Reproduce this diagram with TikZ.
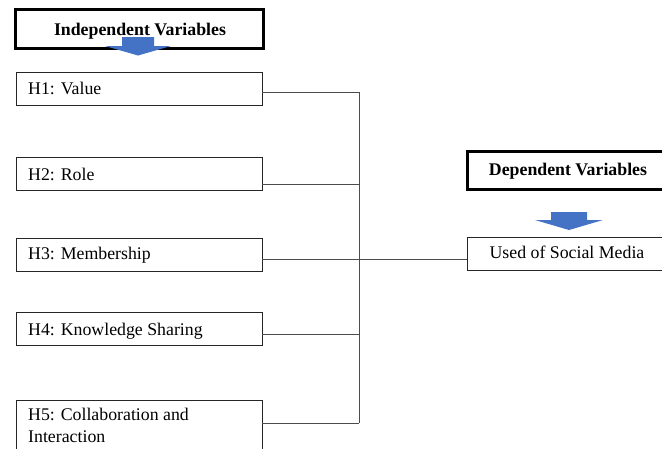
\documentclass[tikz,border=0pt]{standalone}
\usepackage{fontspec}
\setmainfont{Liberation Serif}
\begin{document}
\begin{tikzpicture}[x=1pt,y=-1pt,
  hbox/.style={draw=black!85,line width=0.9pt,rectangle,inner sep=0pt,outer sep=0pt},
  headbox/.style={draw=black,line width=3pt,rectangle,inner sep=0pt,outer sep=0pt},
  txt/.style={inner sep=0pt,font=\fontsize{17.8}{22}\selectfont},
  btxt/.style={inner sep=0pt,font=\fontsize{17.8}{22}\selectfont\bfseries},
  conn/.style={draw=black!70,line width=0.9pt},
  bluearrow/.style={fill={rgb,255:red,68;green,114;blue,196},draw=none}]
\useasboundingbox (0,0) rectangle (662,448);
\clip (0,0) rectangle (662,448);
\fill[white] (0,0) rectangle (662,448);
% header boxes
\node[headbox,minimum width=248pt,minimum height=39pt,anchor=north west] (indep) at (15,9) {};
\node[btxt,anchor=base] (indept) at (140,35) {Independent Variables};
\node[headbox,minimum width=201pt,minimum height=38pt,anchor=north west] (dep) at (467,151) {};
\node[btxt,anchor=base] (dept) at (568,175) {Dependent Variables};
% arrows
\fill[bluearrow] (122,37) -- (154,37) -- (154,46) -- (171,46) -- (138,55.5) -- (105,46) -- (122,46) -- cycle;
\fill[bluearrow] (551,212) -- (587,212) -- (587,220) -- (603,220) -- (569,230) -- (535,220) -- (551,220) -- cycle;
% hypothesis boxes
\node[hbox,minimum width=246pt,minimum height=33pt,anchor=north west] (h1) at (16,72) {};
\node[txt,anchor=base west] (h1t) at (28,94) {H1: Value};
\node[hbox,minimum width=246pt,minimum height=33pt,anchor=north west] (h2) at (16,157) {};
\node[txt,anchor=base west] (h2t) at (28,180) {H2: Role};
\node[hbox,minimum width=246pt,minimum height=33pt,anchor=north west] (h3) at (16,238) {};
\node[txt,anchor=base west] (h3t) at (28,259) {H3: Membership};
\node[hbox,minimum width=246pt,minimum height=33pt,anchor=north west] (h4) at (16,312) {};
\node[txt,anchor=base west] (h4t) at (28,335) {H4: Knowledge Sharing};
\node[hbox,minimum width=246pt,minimum height=60pt,anchor=north west] (h5) at (16,400) {};
\node[txt,anchor=base west] (h5t) at (28,420) {H5: Collaboration and};
\node[txt,anchor=base west] (h5u) at (28,442) {Interaction};
% dependent
\node[hbox,minimum width=201pt,minimum height=33pt,anchor=north west] (used) at (467,237) {};
\node[txt,anchor=base] (usedt) at (567,258) {Used of Social Media};
% junctions
\coordinate (j1) at (359,92);
\coordinate (j2) at (359,184);
\coordinate (j3) at (359,259);
\coordinate (j4) at (359,334);
\coordinate (j5) at (359,423);
\draw[conn] (h1.east |- j1) -- (j1);
\draw[conn] (h2.east |- j2) -- (j2);
\draw[conn] (h3.east |- j3) -- (j3);
\draw[conn] (h4.east |- j4) -- (j4);
\draw[conn] (h5.east |- j5) -- (j5);
\draw[conn] (j1) -- (j5);
\draw[conn] (j3) -- (used.west |- j3);
\end{tikzpicture}
\end{document}
